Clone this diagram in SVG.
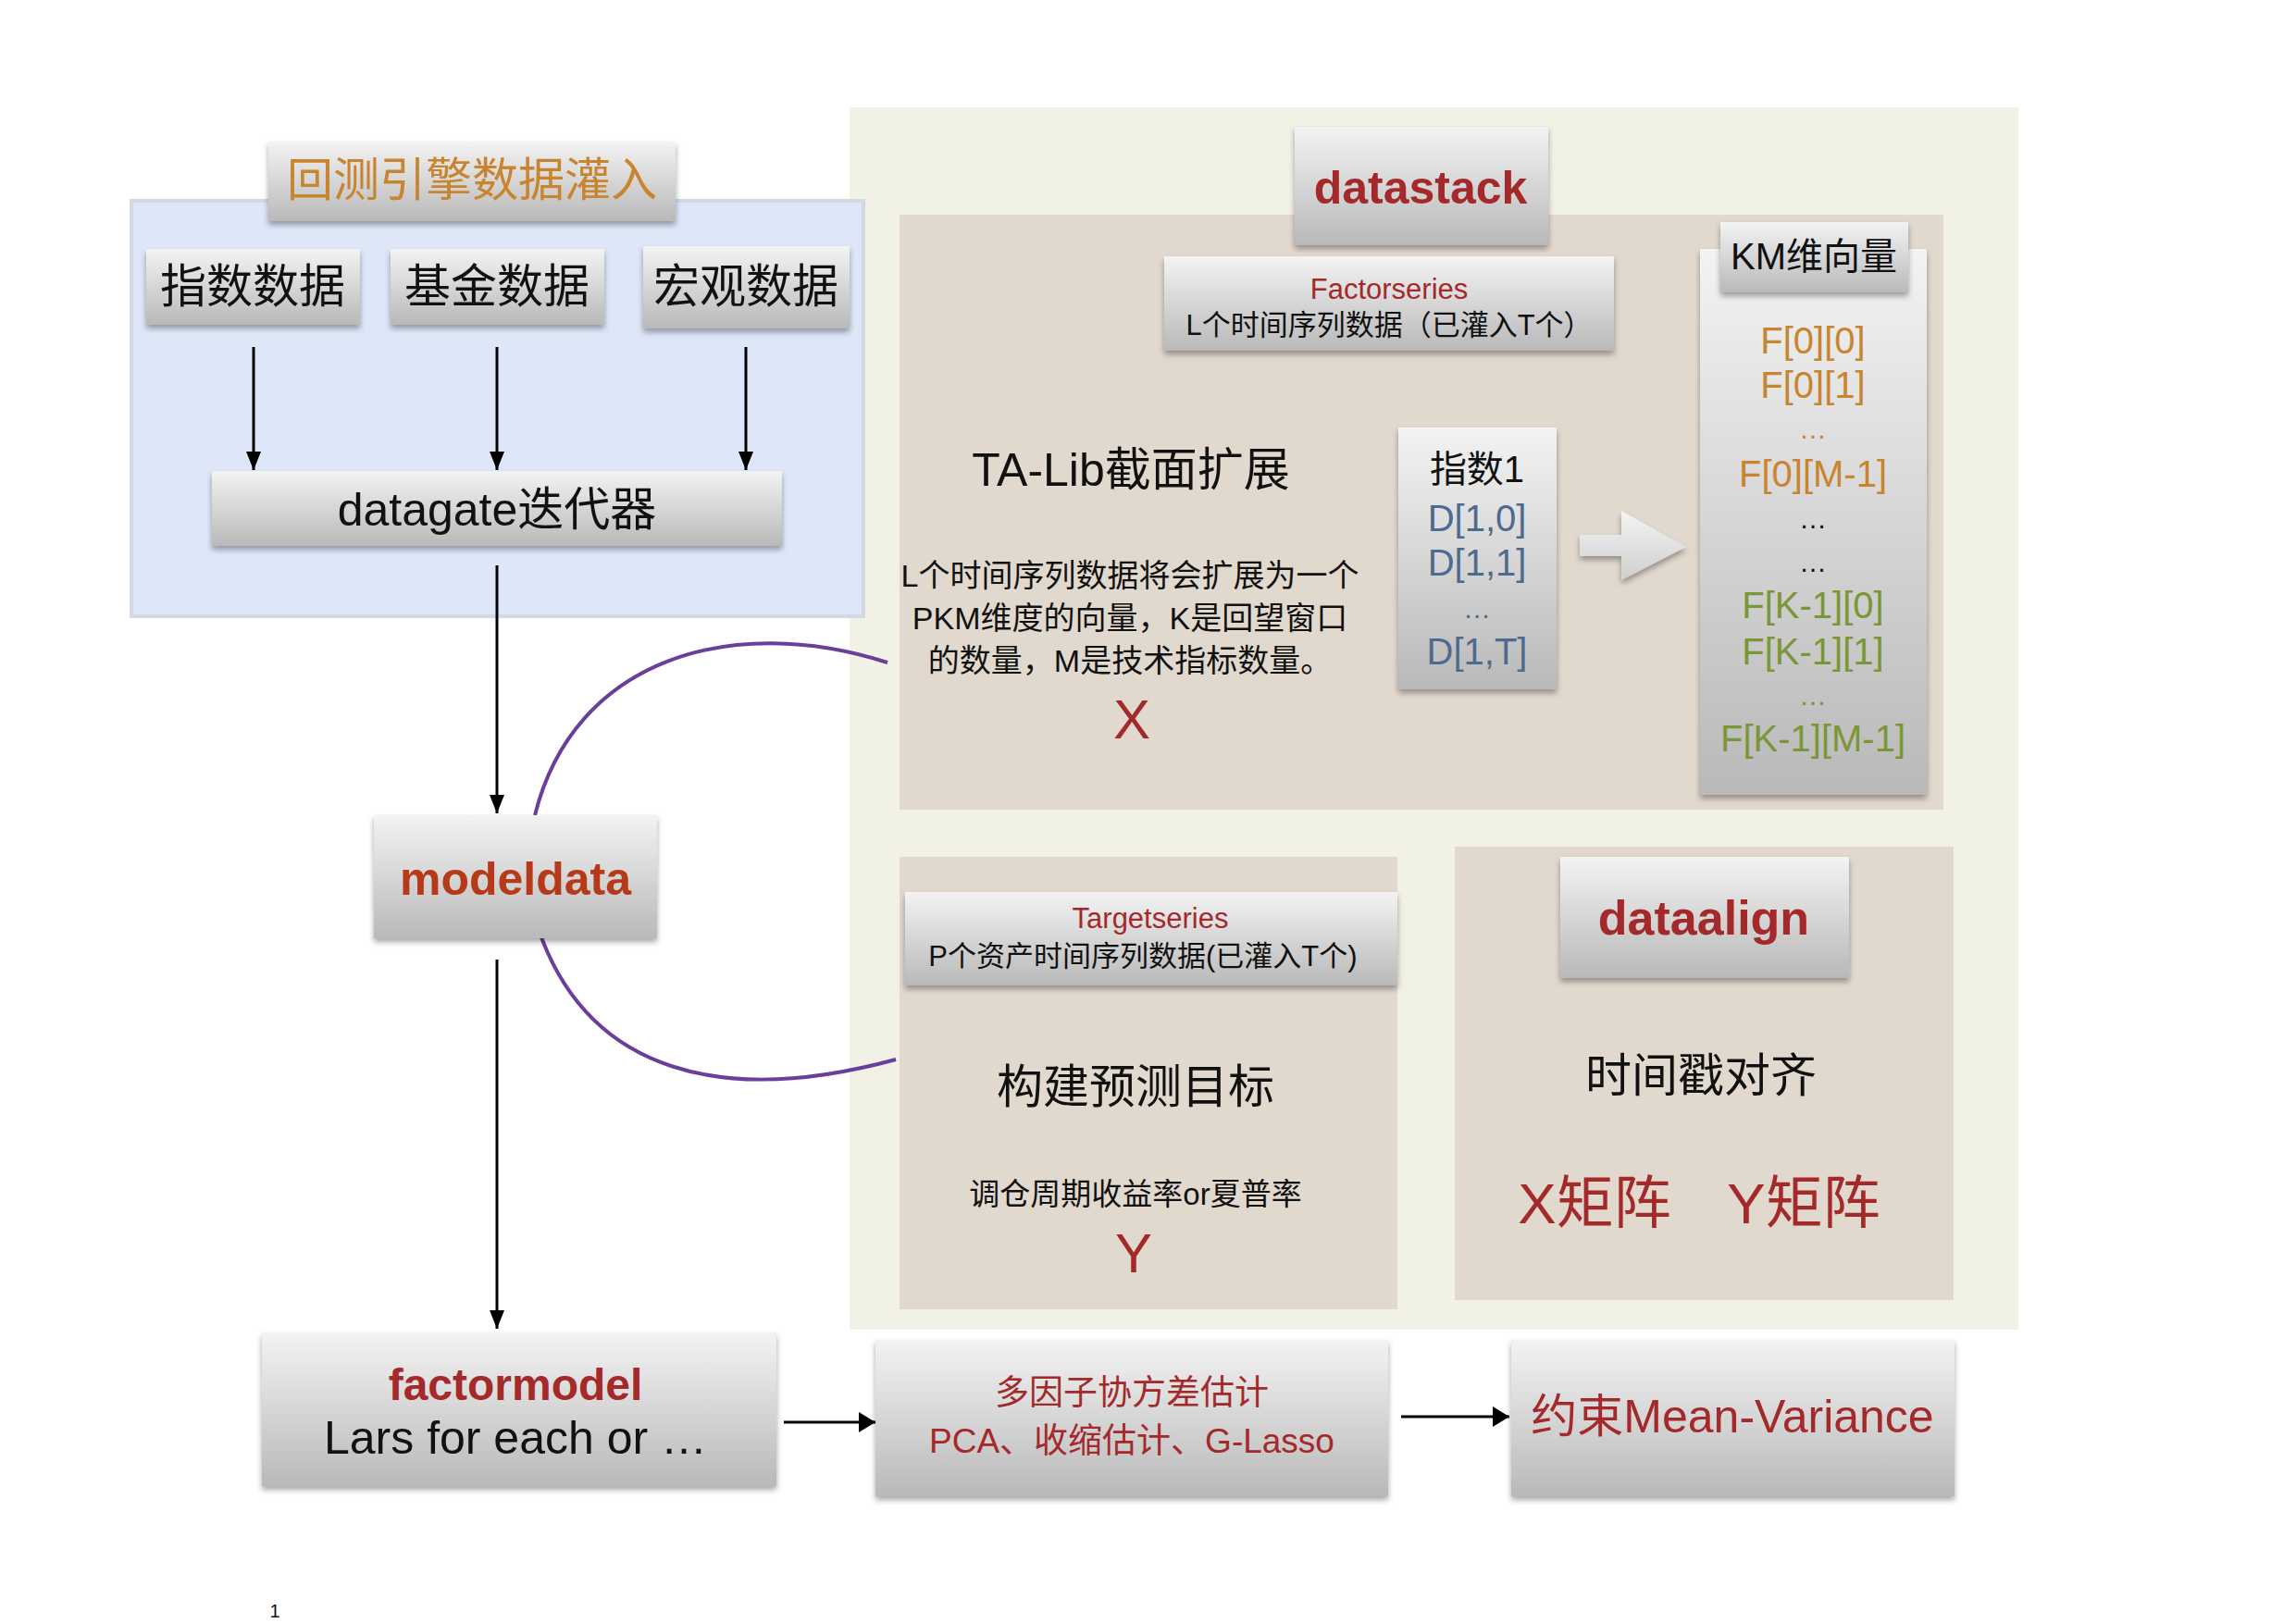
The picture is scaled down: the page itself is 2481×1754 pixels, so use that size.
<svg xmlns="http://www.w3.org/2000/svg" width="2481" height="1754" viewBox="0 0 2481 1754">
<defs>
  <linearGradient id="boxg" x1="0" y1="0" x2="0" y2="1">
    <stop offset="0" stop-color="#f3f3f3"/>
    <stop offset="1" stop-color="#b9b9b9"/>
  </linearGradient>
  <linearGradient id="arrg" x1="0" y1="0" x2="0" y2="1">
    <stop offset="0" stop-color="#f4f4f4"/>
    <stop offset="1" stop-color="#cfcfcf"/>
  </linearGradient>
  <filter id="sh" x="-10%" y="-10%" width="120%" height="125%">
    <feDropShadow dx="0" dy="4" stdDeviation="3" flood-color="#000" flood-opacity="0.35"/>
  </filter>
  <marker id="ah" viewBox="0 0 20 16" refX="20" refY="8" markerWidth="20" markerHeight="16" orient="auto" markerUnits="userSpaceOnUse">
    <path d="M0,0 L20,8 L0,16 Z" fill="#000"/>
  </marker>
  <marker id="ah2" viewBox="0 0 18 22" refX="18" refY="11" markerWidth="18" markerHeight="22" orient="auto" markerUnits="userSpaceOnUse">
    <path d="M0,0 L18,11 L0,22 Z" fill="#000"/>
  </marker>
</defs>
<style>
  text { font-family: "Liberation Sans", "Noto Sans CJK SC", sans-serif; text-anchor: middle; }
  .box { fill: url(#boxg); filter: url(#sh); }
  .blk { fill: #111; }
  .red { fill: #a3292a; }
  .bold { font-weight: bold; }
  .org { fill: #c8842e; }
  .grn { fill: #7a9636; }
  .blu { fill: #4d6b8e; }
  .conn { stroke: #000; stroke-width: 3; fill: none; }
  .purple { stroke: #6a3f9c; stroke-width: 4; fill: none; }
</style>
<rect x="0" y="0" width="2481" height="1754" fill="#fff"/>

<!-- backgrounds -->
<rect x="918" y="116" width="1263" height="1321" fill="#f2f1e5"/>
<rect x="972" y="232" width="1128" height="643" fill="#e2d9ce"/>
<rect x="972" y="926" width="538" height="489" fill="#e2d9ce"/>
<rect x="1572" y="915" width="539" height="490" fill="#e2d9ce"/>
<rect x="142" y="217" width="791" height="449" fill="#dbe6f8" fill-opacity="0.95" stroke="#d2d9e3" stroke-width="4"/>

<!-- connectors -->
<g id="connectors">
  <line class="conn" x1="274" y1="375" x2="274" y2="508" marker-end="url(#ah)"/>
  <line class="conn" x1="537" y1="375" x2="537" y2="508" marker-end="url(#ah)"/>
  <line class="conn" x1="806" y1="375" x2="806" y2="508" marker-end="url(#ah)"/>
  <line class="conn" x1="537" y1="611" x2="537" y2="879" marker-end="url(#ah)"/>
  <line class="conn" x1="537" y1="1037" x2="537" y2="1436" marker-end="url(#ah)"/>
  <line class="conn" stroke-width="5" x1="847" y1="1537" x2="946" y2="1537" marker-end="url(#ah2)"/>
  <line class="conn" stroke-width="5" x1="1514" y1="1531" x2="1631" y2="1531" marker-end="url(#ah2)"/>
  <path class="purple" d="M578,881 C620,712 790,662 959,716"/>
  <path class="purple" d="M585,1013 C640,1158 780,1196 968,1145"/>
</g>

<g id="title-input">
  <rect class="box" x="290" y="153" width="440" height="86"/>
  <text class="org" x="510" y="212" font-size="50">回测引擎数据灌入</text>
</g>
<g id="index-data">
  <rect class="box" x="158" y="269" width="231" height="82"/>
  <text class="blk" x="273" y="327" font-size="50">指数数据</text>
</g>
<g id="fund-data">
  <rect class="box" x="422" y="269" width="231" height="82"/>
  <text class="blk" x="537" y="327" font-size="50">基金数据</text>
</g>
<g id="macro-data">
  <rect class="box" x="695" y="266" width="223" height="89"/>
  <text class="blk" x="806" y="327" font-size="50">宏观数据</text>
</g>
<g id="datagate">
  <rect class="box" x="229" y="509" width="616" height="81"/>
  <text class="blk" x="537" y="568" font-size="50">datagate迭代器</text>
</g>
<g id="modeldata">
  <rect class="box" x="404" y="881" width="306" height="133"/>
  <text class="bold" fill="#b6391a" x="557" y="967" font-size="50">modeldata</text>
</g>

<g id="datastack">
  <rect class="box" x="1399" y="137" width="274" height="128"/>
  <text class="red bold" x="1535" y="220" font-size="50">datastack</text>
</g>
<g id="factorseries">
  <rect class="box" x="1258" y="277" width="486" height="102"/>
  <text class="red" x="1501" y="323" font-size="31">Factorseries</text>
  <text class="blk" x="1501" y="362" font-size="31">L个时间序列数据（已灌入T个）</text>
</g>
<g id="talib">
  <text class="blk" x="1222" y="525" font-size="50">TA-Lib截面扩展</text>
  <text class="blk" x="1221" y="634" font-size="34">L个时间序列数据将会扩展为一个</text>
  <text class="blk" x="1221" y="680" font-size="34">PKM维度的向量，K是回望窗口</text>
  <text class="blk" x="1221" y="726" font-size="34">的数量，M是技术指标数量。</text>
  <text class="red" x="1223" y="798" font-size="60">X</text>
</g>
<g id="index1">
  <rect class="box" x="1511" y="462" width="171" height="283"/>
  <text class="blk" x="1596" y="521" font-size="40">指数1</text>
  <text class="blu" x="1596" y="574" font-size="40">D[1,0]</text>
  <text class="blu" x="1596" y="622" font-size="40">D[1,1]</text>
  <text class="blu" x="1596" y="668" font-size="30">…</text>
  <text class="blu" x="1596" y="718" font-size="40">D[1,T]</text>
</g>
<g id="expand-arrow">
  <path d="M1707,578 L1752,578 L1752,552 L1822,591 L1752,627 L1752,601 L1707,601 Z" fill="url(#arrg)" filter="url(#sh)"/>
</g>
<g id="km-vector">
  <rect class="box" x="1837" y="269" width="245" height="590"/>
  <rect class="box" x="1859" y="240" width="203" height="76"/>
  <text class="blk" x="1960" y="291" font-size="40">KM维向量</text>
  <text class="org" x="1959" y="382" font-size="40">F[0][0]</text>
  <text class="org" x="1959" y="430" font-size="40">F[0][1]</text>
  <text class="org" x="1959" y="474" font-size="30">…</text>
  <text class="org" x="1959" y="526" font-size="40">F[0][M-1]</text>
  <text class="blk" x="1959" y="571" font-size="30">…</text>
  <text class="blk" x="1959" y="618" font-size="30">…</text>
  <text class="grn" x="1959" y="668" font-size="40">F[K-1][0]</text>
  <text class="grn" x="1959" y="718" font-size="40">F[K-1][1]</text>
  <text class="grn" x="1959" y="762" font-size="30">…</text>
  <text class="grn" x="1959" y="812" font-size="40">F[K-1][M-1]</text>
</g>

<g id="targetseries">
  <rect class="box" x="978" y="964" width="532" height="101"/>
  <text class="red" x="1243" y="1003" font-size="31">Targetseries</text>
  <text class="blk" x="1235" y="1044" font-size="31">P个资产时间序列数据(已灌入T个)</text>
</g>
<g id="build-target">
  <text class="blk" x="1227" y="1192" font-size="50">构建预测目标</text>
  <text class="blk" x="1227" y="1302" font-size="33">调仓周期收益率or夏普率</text>
  <text class="red" x="1225" y="1375" font-size="60">Y</text>
</g>
<g id="dataalign">
  <rect class="box" x="1686" y="926" width="312" height="131"/>
  <text class="red bold" x="1841" y="1010" font-size="52">dataalign</text>
  <text class="blk" x="1838" y="1180" font-size="50">时间戳对齐</text>
  <text class="red" x="1723" y="1322" font-size="62">X矩阵</text>
  <text class="red" x="1949" y="1322" font-size="62">Y矩阵</text>
</g>

<g id="factormodel">
  <rect class="box" x="283" y="1440" width="556" height="166"/>
  <text class="red bold" x="557" y="1513" font-size="48">factormodel</text>
  <text class="blk" x="557" y="1571" font-size="50">Lars for each or …</text>
</g>
<g id="covariance">
  <rect class="box" x="946" y="1448" width="554" height="169"/>
  <text class="red" x="1223" y="1518" font-size="37">多因子协方差估计</text>
  <text class="red" x="1223" y="1570" font-size="37">PCA、收缩估计、G-Lasso</text>
</g>
<g id="mean-variance">
  <rect class="box" x="1633" y="1448" width="479" height="169"/>
  <text class="red" x="1872" y="1548" font-size="50">约束Mean-Variance</text>
</g>

<text class="blk" x="297" y="1748" font-size="20">1</text>
</svg>
